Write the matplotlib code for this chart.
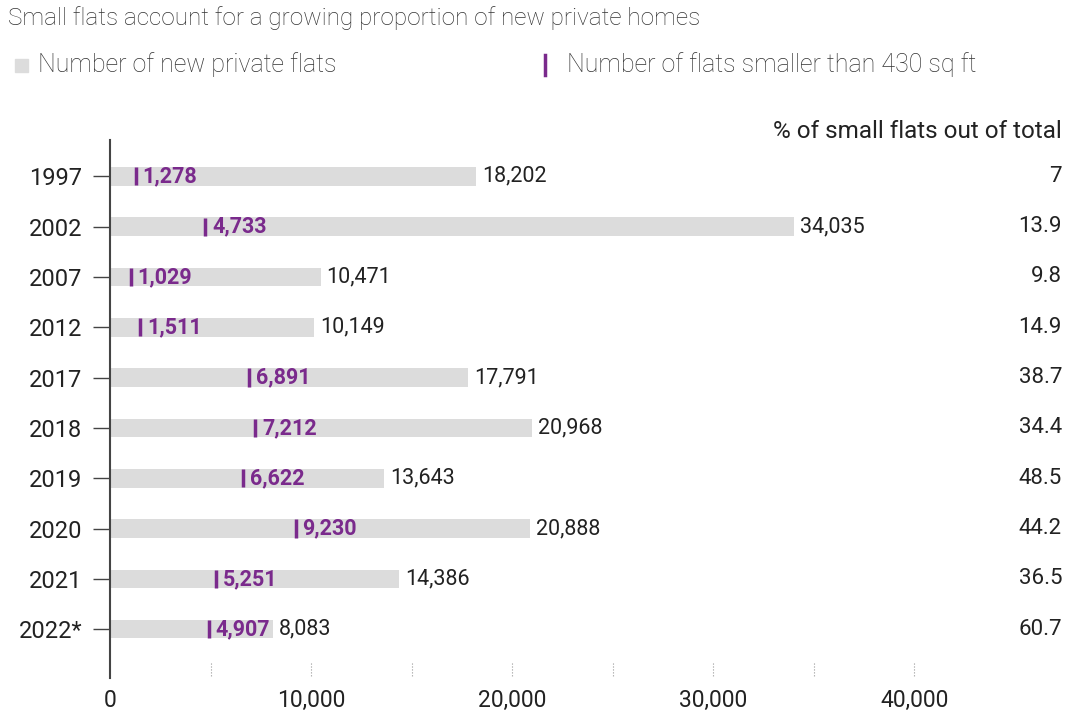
import matplotlib
matplotlib.use("Agg")
import matplotlib.pyplot as plt
from matplotlib.transforms import offset_copy

# Данные
years = ["1997", "2002", "2007", "2012", "2017", "2018", "2019", "2020", "2021", "2022*"]
total_flats = [18202, 34035, 10471, 10149, 17791, 20968, 13643, 20888, 14386, 8083]
small_flats = [1278, 4733, 1029, 1511, 6891, 7212, 6622, 9230, 5251, 4907]
pct_small = ["7", "13.9", "9.8", "14.9", "38.7", "34.4", "48.5", "44.2", "36.5", "60.7"]
xticks = [0, 10000, 20000, 30000, 40000]
minor_marks = [5000, 10000, 15000, 20000, 25000, 30000, 35000, 40000]

grey = "#dcdcdc"
purple = "#7a2a8c"
dark = "#222222"

plt.rcParams['font.family'] = ['Roboto', 'DejaVu Sans']

fig = plt.figure(figsize=(10.69, 7.12), dpi=100)
ax = fig.add_axes([110 / 1069, 1 - 678 / 712, (1062 - 110) / 1069, (678 - 140) / 712])

ypos = list(range(len(years)))
ax.barh(ypos, total_flats, height=0.37, color=grey, zorder=1)
ax.vlines(small_flats, [y - 0.18 for y in ypos], [y + 0.18 for y in ypos],
          color=purple, linewidth=2.5, zorder=3)

tr_small = offset_copy(ax.transData, fig=fig, x=7, y=0, units='dots')
tr_total = offset_copy(ax.transData, fig=fig, x=6, y=0, units='dots')
for y, s, t, p in zip(ypos, small_flats, total_flats, pct_small):
    ax.text(s, y, "{:,}".format(s), transform=tr_small, color=purple,
            fontsize=15.5, fontweight='bold', va='center', ha='left')
    ax.text(t, y, "{:,}".format(t), transform=tr_total, color=dark,
            fontsize=15.5, va='center', ha='left')
    ax.text(1.0, y, p, transform=ax.get_yaxis_transform(), color=dark,
            fontsize=16, va='center', ha='right')

# Короткие пунктирные отметки внизу
ax.vlines(minor_marks, 9.68, 9.97, color="#999999", linewidth=0.8, linestyles=':')

ax.set_xlim(0, 952 / 0.02011)
ax.set_ylim(9.97, -0.72)
ax.set_yticks(ypos)
ax.set_yticklabels(years, fontsize=17, color=dark)
ax.set_xticks(xticks)
ax.set_xticklabels(["{:,}".format(v) for v in xticks], fontsize=16.5, color=dark)
ax.tick_params(axis='x', length=0, pad=8)
ax.tick_params(axis='y', length=12, width=1, color="#444444", pad=8)

for side in ['top', 'right', 'bottom']:
    ax.spines[side].set_visible(False)
ax.spines['left'].set_color("#444444")
ax.spines['left'].set_linewidth(1.5)

# Заголовки и легенда
fig.text(8 / 1069, 1 - 18 / 712, "Small flats account for a growing proportion of new private homes",
         fontsize=17.5, fontweight='light', color="#333333", va='center', ha='left')
fig.patches.append(plt.Rectangle((15 / 1069, 1 - 72 / 712), 13 / 1069, 13 / 712,
                                 transform=fig.transFigure, color=grey))
fig.text(38 / 1069, 1 - 65 / 712, "Number of new private flats",
         fontsize=18, fontweight='light', color="#333333", va='center', ha='left')
fig.lines.append(plt.Line2D([545 / 1069, 545 / 1069], [1 - 55 / 712, 1 - 75 / 712],
                            transform=fig.transFigure, color=purple, linewidth=2.5))
fig.text(567 / 1069, 1 - 65 / 712, "Number of flats smaller than 430 sq ft",
         fontsize=18, fontweight='light', color="#333333", va='center', ha='left')
fig.text(1062 / 1069, 1 - 132 / 712, "% of small flats out of total",
         fontsize=17.5, color=dark, va='center', ha='right')

fig.savefig("out.png", dpi=100)
